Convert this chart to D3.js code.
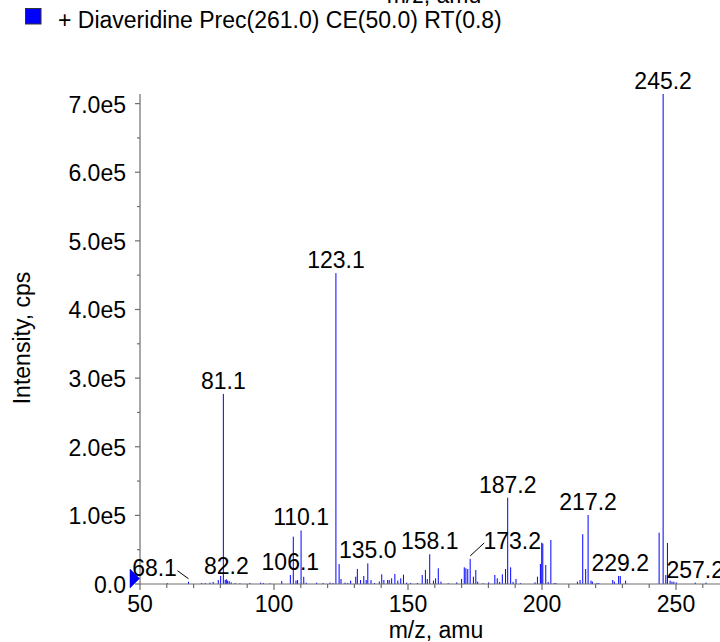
<!DOCTYPE html>
<html>
<head>
<meta charset="utf-8">
<script src="https://cdn.jsdelivr.net/npm/d3@7"></script>
<style>
  html, body { margin: 0; padding: 0; background: #fff; }
  svg { display: block; }
  text { font-family: "Liberation Sans", Arial, Helvetica, sans-serif; fill: #000; }
</style>
</head>
<body>
<svg id="chart" width="720" height="642"></svg>
<script>
// ---- data ----
const peakMz = [60.2, 68.1, 73.0, 74.3, 76.1, 77.3, 79.2, 80.1, 81.1, 81.8, 82.2, 82.7, 83.3, 84.0, 85.5, 87.3, 91.0, 95.0, 96.0, 98.5,
  102.9, 106.1, 107.2, 108.2, 108.8, 110.1, 111.1, 112.0, 115.9, 118.3, 120.9, 122.0, 123.1, 124.3, 125.0, 126.5, 127.5, 128.6,
  130.5, 131.1, 132.3, 133.5, 134.4, 135.0, 136.2, 137.5, 139.3, 140.2, 141.0, 142.4, 143.0, 143.9, 145.1, 146.2, 147.3, 148.3,
  149.5, 151.0, 153.5, 155.3, 156.5, 157.2, 158.1, 159.5, 160.3, 161.3, 162.3, 165.0, 168.2, 170.0, 171.0, 171.6, 172.3, 173.2,
  174.4, 175.3, 176.0, 178.0, 180.1, 182.4, 183.3, 184.2, 185.2, 186.4, 187.2, 188.3, 189.2, 190.3, 192.0, 197.4, 198.3, 199.4,
  199.9, 200.3, 201.4, 202.3, 203.3, 204.5, 205.2, 213.2, 214.2, 215.2, 216.3, 217.2, 218.3, 218.8, 220.5, 221.2, 226.4, 227.0,
  228.6, 229.2, 231.2, 243.7, 245.2, 246.2, 246.8, 247.8, 248.5, 249.2, 250.1, 257.2, 261.2];
const peakIntensity = [1200, 3300, 1500, 1500, 2000, 3000, 5800, 11600, 277000, 5800, 7000, 5000, 4000, 2500, 1500, 1000, 1500, 2000, 1500, 1000,
  4400, 13000, 69000, 5000, 5800, 78000, 10600, 2000, 2000, 1500, 2000, 1500, 453000, 29000, 7300, 2000, 1500, 4900,
  10700, 21900, 5800, 11700, 5800, 30000, 5800, 1500, 3600, 14100, 5800, 5800, 5800, 8300, 14600, 4900, 8300, 13600,
  2000, 1500, 1500, 13100, 20400, 7300, 43300, 4900, 8300, 22900, 3400, 1200, 2400, 7300, 24300, 22900, 21900, 36500,
  10700, 20400, 3400, 1200, 2400, 13100, 8300, 3000, 14100, 21900, 125800, 24300, 3000, 7300, 1200, 2400, 10700, 29200,
  60200, 59000, 27700, 3000, 64200, 1500, 1500, 3400, 5800, 72500, 21900, 100600, 4900, 3400, 1500, 1500, 5800, 3400,
  11700, 11700, 4900, 74800, 714000, 13100, 59800, 4900, 3400, 3400, 2400, 2000, 2000];
const labeledMz = [68.1, 81.1, 82.2, 106.1, 110.1, 123.1, 135.0, 158.1, 173.2, 187.2, 217.2, 229.2, 245.2, 257.2];
const xTickValues = [50, 100, 150, 200, 250];
const yTickValues = [0, 1e5, 2e5, 3e5, 4e5, 5e5, 6e5, 7e5];
const yTickLabels = ["0.0", "1.0e5", "2.0e5", "3.0e5", "4.0e5", "5.0e5", "6.0e5", "7.0e5"];
const legendText = "+ Diaveridine Prec(261.0) CE(50.0) RT(0.8)";
const xTitle = "m/z, amu";
const yTitle = "Intensity, cps";

// ---- layout ----
const svg = d3.select("#chart");
const x0 = 140, yBase = 584, yTop = 94;
const x = d3.scaleLinear().domain([50, 270]).range([x0, x0 + 220 * 2.68]);
const y = d3.scaleLinear().domain([0, 714000]).range([yBase, yTop]);
const axisColor = "#6e6e6e";
const fs = 23;

// cut-off title at top
svg.append("text").attr("x", 434).attr("y", 3).attr("text-anchor", "middle")
  .attr("font-size", fs).text(xTitle);

// legend
svg.append("rect").attr("x", 25.5).attr("y", 8.5).attr("width", 15.5).attr("height", 15.5)
  .attr("fill", "#0000ff").attr("stroke", "#333").attr("stroke-width", 1);
svg.append("text").attr("x", 58).attr("y", 27.5).attr("font-size", fs).text(legendText);

// peaks
const peaks = peakMz.map((m, i) => ({ mz: m, v: peakIntensity[i] }));
svg.append("g").selectAll("line").data(peaks).join("line")
  .attr("x1", d => x(d.mz)).attr("x2", d => x(d.mz))
  .attr("y1", y(0)).attr("y2", d => y(d.v))
  .attr("stroke", "#0000ff").attr("stroke-width", 1);

// axes
const gx = svg.append("g").attr("transform", `translate(0,${yBase})`);
gx.append("line").attr("x1", x0).attr("x2", 720).attr("y1", 0).attr("y2", 0)
  .attr("stroke", axisColor).attr("stroke-width", 1.2);
const minorX = d3.range(50, 271, 10).filter(v => v % 50 !== 0);
gx.selectAll(".mx").data(minorX).join("line")
  .attr("x1", d => x(d)).attr("x2", d => x(d)).attr("y1", 0).attr("y2", 4)
  .attr("stroke", axisColor).attr("stroke-width", 1.2);
gx.selectAll(".Mx").data(xTickValues).join("line")
  .attr("x1", d => x(d)).attr("x2", d => x(d)).attr("y1", 0).attr("y2", 6)
  .attr("stroke", axisColor).attr("stroke-width", 1.2);
gx.selectAll(".tx").data(xTickValues).join("text")
  .attr("x", d => x(d)).attr("y", 27.5).attr("text-anchor", "middle")
  .attr("font-size", fs).text(d => d);

const gy = svg.append("g");
gy.append("line").attr("x1", x0).attr("x2", x0).attr("y1", yTop).attr("y2", yBase)
  .attr("stroke", axisColor).attr("stroke-width", 1.2);
const minorY = d3.range(0.5e5, 7.1e5, 1e5);
gy.selectAll(".my").data(minorY).join("line")
  .attr("x1", x0 - 3).attr("x2", x0).attr("y1", d => y(d)).attr("y2", d => y(d))
  .attr("stroke", axisColor).attr("stroke-width", 1.2);
gy.selectAll(".My").data(yTickValues).join("line")
  .attr("x1", x0 - 5).attr("x2", x0).attr("y1", d => y(d)).attr("y2", d => y(d))
  .attr("stroke", axisColor).attr("stroke-width", 1.2);
gy.selectAll(".ty").data(yTickValues).join("text")
  .attr("x", 126).attr("y", d => y(d) + 9).attr("text-anchor", "end")
  .attr("font-size", fs).text((d, i) => yTickLabels[i]);

// axis titles
svg.append("text").attr("x", 436).attr("y", 638).attr("text-anchor", "middle")
  .attr("font-size", fs).text(xTitle);
svg.append("text").attr("transform", "translate(30,338) rotate(-90)")
  .attr("text-anchor", "middle").attr("font-size", fs).text(yTitle);

// peak labels
const offsets = { 68.1: [-34, -1], 173.2: [42, -5] };
const lbl = svg.append("g");
labeledMz.forEach(m => {
  const p = peaks.find(d => d.mz === m);
  const px = x(p.mz), py = y(p.v);
  const off = offsets[m];
  if (off) {
    const lx = px + off[0], ly = py + off[1] - 5;
    lbl.append("text").attr("x", lx).attr("y", ly).attr("text-anchor", "middle")
      .attr("font-size", fs).text(m.toFixed(1));
    const sx = off[0] < 0 ? lx + 23 : lx - 28;
    lbl.append("line").attr("x1", sx).attr("y1", off[0] < 0 ? ly - 5 : ly - 6)
      .attr("x2", px).attr("y2", py - 3).attr("stroke", "#000").attr("stroke-width", 1);
  } else {
    lbl.append("text").attr("x", px).attr("y", py - 5).attr("text-anchor", "middle")
      .attr("font-size", fs).text(m.toFixed(1));
  }
});

// origin marker
svg.append("path")
  .attr("d", `M${x0 - 10},${yBase - 15} L${x0 - 0.5},${yBase - 5.5} L${x0 - 10},${yBase + 4} Z`)
  .attr("fill", "#0000ff").attr("stroke", "#0000cc").attr("stroke-width", 0.5);
</script>
</body>
</html>
